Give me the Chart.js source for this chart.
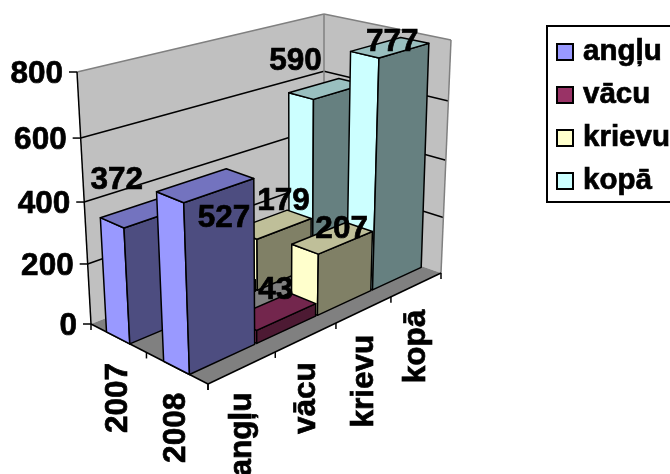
<!DOCTYPE html>
<html>
<head>
<meta charset="utf-8">
<title>Valodas</title>
<style>
  html, body { margin: 0; padding: 0; background: #fff; overflow: hidden; }
  canvas { display: block; }
</style>
<script src="https://cdn.jsdelivr.net/npm/chart.js@4/dist/chart.umd.js"></script>
</head>
<body>
<canvas id="chart" width="670" height="474"></canvas>
<script>
// Data
const years = ['2007', '2008'];
const languages = ['angļu', 'vācu', 'krievu', 'kopā'];
const anglu = [372, 527];
const vacu = [39, 43];
const krievu = [179, 207];
const kopa = [590, 777];
const yTicks = [0, 200, 400, 600, 800];
const colors = ['#9999FF', '#993366', '#FFFFCC', '#CCFFFF'];

// Box of the 3D room in screen pixels: floor and ceiling corners
const FLOOR = [[208, 384], [441, 273], [324, 232], [91, 324]];
const CEIL = [[201, 115], [451, 40], [324, 14], [77, 72]];
const PERSPECTIVE_Z = 0.938;
const BAR_U = 0.968; // bar width in its language band
const BAR_U_SHIFT = -0.004;
const BAR_V = 0.42; // bar depth in its year band
const FONT = 'bold 31.5px "Liberation Sans", Arial, sans-serif';
const LEGEND_FONT = 'bold 29.5px "Liberation Sans", Arial, sans-serif';

// Where Excel put the value labels, relative to the top of each bar (null = not shown)
const labelShift = [
  [[-30, -31], [18, 33]],
  [null, [2, -21]],
  [[11, -23], [9, -8]],
  [[-31, -27], [2, -5]]
];

function quadMap(q) {
  const [[x0, y0], [x1, y1], [x2, y2], [x3, y3]] = q;
  const dx1 = x1 - x2, dx2 = x3 - x2, sx = x0 - x1 + x2 - x3;
  const dy1 = y1 - y2, dy2 = y3 - y2, sy = y0 - y1 + y2 - y3;
  const den = dx1 * dy2 - dx2 * dy1;
  const g = (sx * dy2 - dx2 * sy) / den;
  const h = (dx1 * sy - sx * dy1) / den;
  const a = x1 - x0 + g * x1, b = x3 - x0 + h * x3;
  const d = y1 - y0 + g * y1, e = y3 - y0 + h * y3;
  return (u, v) => {
    const k = g * u + h * v + 1;
    return [(a * u + b * v + x0) / k, (d * u + e * v + y0) / k];
  };
}
const floorAt = quadMap(FLOOR);
const ceilAt = quadMap(CEIL);

// u: along languages, v: towards the back, w: height 0..1
function project(u, v, w) {
  const s = w * PERSPECTIVE_Z / (1 + (PERSPECTIVE_Z - 1) * w);
  const f = floorAt(u, v), c = ceilAt(u, v);
  return [f[0] + (c[0] - f[0]) * s, f[1] + (c[1] - f[1]) * s];
}

function shade(hex, k) {
  const n = parseInt(hex.slice(1), 16);
  const ch = [n >> 16, (n >> 8) & 255, n & 255].map(c => Math.round(c * k));
  return `rgb(${ch.join(',')})`;
}

function poly(ctx, pts, fill, stroke, width) {
  ctx.beginPath();
  pts.forEach((p, i) => i ? ctx.lineTo(p[0], p[1]) : ctx.moveTo(p[0], p[1]));
  ctx.closePath();
  if (fill) { ctx.fillStyle = fill; ctx.fill(); }
  if (stroke) { ctx.strokeStyle = stroke; ctx.lineWidth = width; ctx.stroke(); }
}

function line(ctx, a, b, color, width) {
  ctx.beginPath();
  ctx.moveTo(a[0], a[1]);
  ctx.lineTo(b[0], b[1]);
  ctx.strokeStyle = color;
  ctx.lineWidth = width;
  ctx.stroke();
}

// the reference text is heavier than plain bold
function heavyText(ctx, text, x, y) {
  ctx.fillStyle = '#000';
  ctx.strokeStyle = '#000';
  ctx.lineWidth = 0.7;
  ctx.fillText(text, x, y);
  ctx.strokeText(text, x, y);
}

// scale position -> 0..1
const decimal = (scale, px) => (px - scale.left) / (scale.right - scale.left);
const height = (chart, value) => {
  const y = chart.scales.y;
  return (y.bottom - y.getPixelForValue(value)) / (y.bottom - y.top);
};

function barBox(chart, ds, yr) {
  const uc = decimal(chart.scales.u, chart.scales.u.getPixelForTick(ds)) + BAR_U_SHIFT;
  const vc = 1 - decimal(chart.scales.x, chart.scales.x.getPixelForTick(yr));
  const du = BAR_U / languages.length / 2, dv = BAR_V / years.length / 2;
  return { u0: uc - du, u1: uc + du, v0: vc - dv, v1: vc + dv, uc, vc };
}

const room3d = {
  id: 'room3d',
  beforeDraw(chart) {
    const ctx = chart.ctx;
    ctx.save();
    // walls and floor
    poly(ctx, [project(0, 1, 0), project(1, 1, 0), project(1, 1, 1), project(0, 1, 1)], '#C0C0C0');
    poly(ctx, [project(1, 1, 0), project(1, 0, 0), project(1, 0, 1), project(1, 1, 1)], '#C0C0C0');
    poly(ctx, [project(0, 0, 0), project(1, 0, 0), project(1, 1, 0), project(0, 1, 0)], '#808080');
    // grid lines
    yTicks.forEach(t => {
      const w = height(chart, t);
      if (t > 0 && t < 800) {
        line(ctx, project(0, 1, w), project(1, 1, w), '#000', 1.5);
        line(ctx, project(1, 1, w), project(1, 0, w), '#000', 1.5);
      }
    });
    // wall outline
    line(ctx, project(0, 1, 1), project(1, 1, 1), '#808080', 1.5);
    line(ctx, project(1, 1, 1), project(1, 0, 1), '#808080', 1.5);
    line(ctx, project(1, 1, 0), project(1, 1, 1), '#808080', 1.5);
    line(ctx, project(1, 0, 0), project(1, 0, 1), '#808080', 1.5);
    // axes
    line(ctx, project(0, 1, 0), project(0, 1, 1), '#000', 1.5);
    line(ctx, project(0, 1, 0), project(0, 0, 0), '#000', 1.5);
    line(ctx, project(0, 0, 0), project(1, 0, 0), '#000', 1.5);
    yTicks.forEach(t => {
      const p = project(0, 1, height(chart, t));
      line(ctx, p, [p[0] - 8, p[1]], '#000', 1.5);
    });
    [0, 1, 2].forEach(i => {
      const p = project(0, i / 2, 0);
      line(ctx, p, [p[0], p[1] + 6], '#000', 1.5);
    });
    [0, 1, 2, 3, 4].forEach(i => {
      const p = project(i / 4, 0, 0);
      line(ctx, p, [p[0], p[1] + 6], '#000', 1.5);
    });
    ctx.restore();
  },
  beforeDatasetsDraw(chart) {
    const ctx = chart.ctx;
    ctx.save();
    ctx.lineJoin = 'round';
    // back row first, far bars first
    years.forEach((_, yr) => {
      for (let ds = chart.data.datasets.length - 1; ds >= 0; ds--) {
        const set = chart.data.datasets[ds];
        const b = barBox(chart, ds, yr);
        const w = height(chart, set.data[yr]);
        const base = set.backgroundColor;
        poly(ctx, [project(b.u0, b.v0, 0), project(b.u0, b.v1, 0), project(b.u0, b.v1, w), project(b.u0, b.v0, w)], base, '#000', 1.5);
        poly(ctx, [project(b.u0, b.v0, 0), project(b.u1, b.v0, 0), project(b.u1, b.v0, w), project(b.u0, b.v0, w)], shade(base, 0.5), '#000', 1.5);
        poly(ctx, [project(b.u0, b.v0, w), project(b.u1, b.v0, w), project(b.u1, b.v1, w), project(b.u0, b.v1, w)], shade(base, 0.75), '#000', 1.5);
      }
    });
    ctx.restore();
    return false; // bars are drawn here, skip the flat ones
  },
  afterDraw(chart) {
    const ctx = chart.ctx;
    ctx.save();
    ctx.font = FONT;

    // value labels
    ctx.textAlign = 'center';
    ctx.textBaseline = 'middle';
    chart.data.datasets.forEach((set, ds) => {
      set.data.forEach((value, yr) => {
        const shift = labelShift[ds][yr];
        if (!shift) return;
        const b = barBox(chart, ds, yr);
        const p = project(b.uc, b.vc, height(chart, value));
        heavyText(ctx, String(value), p[0] + shift[0], p[1] + shift[1]);
      });
    });

    // y tick labels
    ctx.textAlign = 'right';
    yTicks.forEach(t => {
      const p = project(0, 1, height(chart, t));
      heavyText(ctx, String(t), p[0] - 14, p[1] + 2);
    });

    // rotated labels under the floor edges
    const rotated = (text, p) => {
      ctx.save();
      ctx.translate(p[0], p[1] + 25);
      ctx.rotate(-Math.PI / 2);
      ctx.textAlign = 'right';
      ctx.textBaseline = 'middle';
      heavyText(ctx, text, 0, 0);
      ctx.restore();
    };
    years.forEach((y, i) => {
      const vc = 1 - decimal(chart.scales.x, chart.scales.x.getPixelForTick(i));
      rotated(y, project(0, vc, 0));
    });
    languages.forEach((l, i) => {
      const uc = decimal(chart.scales.u, chart.scales.u.getPixelForTick(i));
      rotated(l, project(uc, 0, 0));
    });

    // legend
    ctx.strokeStyle = '#000';
    ctx.lineWidth = 2;
    ctx.strokeRect(547, 26, 140, 176);
    ctx.font = LEGEND_FONT;
    ctx.textAlign = 'left';
    chart.data.datasets.forEach((set, i) => {
      const y = 52 + i * 43;
      ctx.fillStyle = set.backgroundColor;
      ctx.strokeStyle = '#000';
      ctx.lineWidth = 2;
      ctx.fillRect(557, y - 8, 16, 16);
      ctx.strokeRect(557, y - 8, 16, 16);
      heavyText(ctx, set.label, 583, y);
    });
    ctx.restore();
  }
};

new Chart(document.getElementById('chart'), {
  type: 'bar',
  data: {
    labels: years,
    datasets: [
      { label: languages[0], data: anglu, backgroundColor: colors[0] },
      { label: languages[1], data: vacu, backgroundColor: colors[1] },
      { label: languages[2], data: krievu, backgroundColor: colors[2] },
      { label: languages[3], data: kopa, backgroundColor: colors[3] }
    ]
  },
  options: {
    responsive: false,
    animation: false,
    devicePixelRatio: 1,
    plugins: { legend: { display: false }, tooltip: { enabled: false } },
    scales: {
      x: { type: 'category', offset: true, display: false },
      u: { type: 'category', axis: 'x', position: 'bottom', labels: languages, offset: true, display: false },
      y: { min: 0, max: 800, display: false }
    }
  },
  plugins: [room3d]
});
</script>
</body>
</html>
